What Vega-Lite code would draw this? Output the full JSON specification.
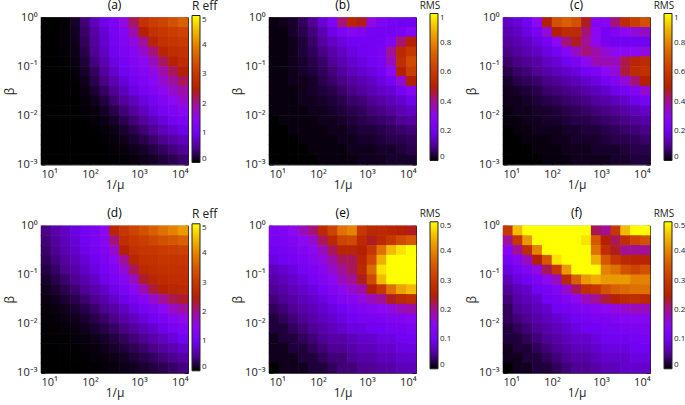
{"$schema":"https://vega.github.io/schema/vega-lite/v6.json","padding":{"left":3,"top":-1.5,"right":0,"bottom":0},"bounds":"flush","columns":5,"spacing":{"column":10,"row":61.3},"resolve":{"scale":{"color":"independent"},"legend":{"color":"independent"}},
"config":{"view":{"stroke":null},"font":"Open Sans","title":{"fontSize":12,"fontWeight":"normal","offset":0,"dy":15.5},"axis":{"grid":false,"domainColor":"#222","tickColor":"#111","labelColor":"#222","titleColor":"#222","labelFontSize":11,"titleFontSize":12,"titleFontWeight":"normal","labelAngle":0,"zindex":1,"tickSize":-4,"labelPadding":8,"titlePadding":0},"legend":{"orient":"none","direction":"vertical","gradientLength":147,"gradientThickness":8,"labelFontSize":8,"titleFontWeight":"normal","titleFontSize":10,"titleAlign":"center","labelColor":"#222","titleColor":"#222","gradientStrokeColor":"#222","gradientStrokeWidth":1,"titlePadding":3,"legendX":151,"legendY":-17}},
"datasets":{"grid":[
{"x":12.6,"y":0.794,"a":0,"b":0.01,"c":0.15,"d":0.45,"e":0.12,"f":0.3},{"x":20,"y":0.794,"a":0,"b":0.02,"c":0.17,"d":0.6,"e":0.13,"f":0.45},{"x":31.6,"y":0.794,"a":0.02,"b":0.03,"c":0.2,"d":0.75,"e":0.15,"f":0.5},{"x":50.1,"y":0.794,"a":0.15,"b":0.06,"c":0.3,"d":0.9,"e":0.18,"f":0.5},{"x":79.4,"y":0.794,"a":0.4,"b":0.1,"c":0.5,"d":1.05,"e":0.21,"f":0.5},{"x":126,"y":0.794,"a":0.7,"b":0.17,"c":0.68,"d":1.2,"e":0.27,"f":0.5},{"x":200,"y":0.794,"a":0.95,"b":0.25,"c":0.72,"d":1.5,"e":0.32,"f":0.5},{"x":316,"y":0.794,"a":1.2,"b":0.42,"c":0.68,"d":2.6,"e":0.38,"f":0.5},{"x":501,"y":0.794,"a":1.6,"b":0.52,"c":0.48,"d":3,"e":0.4,"f":0.5},{"x":794,"y":0.794,"a":2.2,"b":0.48,"c":0.27,"d":3.2,"e":0.3,"f":0.22},{"x":1259,"y":0.794,"a":2.9,"b":0.32,"c":0.28,"d":3.4,"e":0.27,"f":0.2},{"x":1995,"y":0.794,"a":3.1,"b":0.25,"c":0.42,"d":3.6,"e":0.27,"f":0.3},{"x":3162,"y":0.794,"a":3.2,"b":0.22,"c":0.55,"d":3.8,"e":0.26,"f":0.45},{"x":5012,"y":0.794,"a":3.4,"b":0.2,"c":0.62,"d":4,"e":0.25,"f":0.5},{"x":7943,"y":0.794,"a":3.6,"b":0.2,"c":0.68,"d":4.2,"e":0.24,"f":0.5},
{"x":12.6,"y":0.501,"a":0,"b":0.01,"c":0.13,"d":0.4,"e":0.11,"f":0.2},{"x":20,"y":0.501,"a":0,"b":0.01,"c":0.15,"d":0.55,"e":0.12,"f":0.3},{"x":31.6,"y":0.501,"a":0.02,"b":0.03,"c":0.18,"d":0.7,"e":0.13,"f":0.42},{"x":50.1,"y":0.501,"a":0.12,"b":0.05,"c":0.22,"d":0.85,"e":0.15,"f":0.5},{"x":79.4,"y":0.501,"a":0.35,"b":0.08,"c":0.33,"d":1,"e":0.17,"f":0.5},{"x":126,"y":0.501,"a":0.6,"b":0.13,"c":0.5,"d":1.15,"e":0.22,"f":0.5},{"x":200,"y":0.501,"a":0.85,"b":0.19,"c":0.55,"d":1.4,"e":0.27,"f":0.5},{"x":316,"y":0.501,"a":1.1,"b":0.24,"c":0.55,"d":2.1,"e":0.32,"f":0.5},{"x":501,"y":0.501,"a":1.4,"b":0.27,"c":0.42,"d":2.8,"e":0.33,"f":0.48},{"x":794,"y":0.501,"a":1.9,"b":0.25,"c":0.3,"d":3,"e":0.27,"f":0.35},{"x":1259,"y":0.501,"a":2.5,"b":0.22,"c":0.22,"d":3.1,"e":0.24,"f":0.25},{"x":1995,"y":0.501,"a":2.9,"b":0.21,"c":0.25,"d":3.25,"e":0.27,"f":0.22},{"x":3162,"y":0.501,"a":3,"b":0.21,"c":0.3,"d":3.4,"e":0.3,"f":0.28},{"x":5012,"y":0.501,"a":3.1,"b":0.23,"c":0.33,"d":3.5,"e":0.33,"f":0.32},{"x":7943,"y":0.501,"a":3.2,"b":0.27,"c":0.35,"d":3.6,"e":0.35,"f":0.34},
{"x":12.6,"y":0.316,"a":0,"b":0.01,"c":0.11,"d":0.35,"e":0.1,"f":0.14},{"x":20,"y":0.316,"a":0,"b":0.01,"c":0.13,"d":0.5,"e":0.11,"f":0.2},{"x":31.6,"y":0.316,"a":0.02,"b":0.02,"c":0.15,"d":0.65,"e":0.12,"f":0.28},{"x":50.1,"y":0.316,"a":0.1,"b":0.04,"c":0.18,"d":0.8,"e":0.13,"f":0.4},{"x":79.4,"y":0.316,"a":0.3,"b":0.07,"c":0.22,"d":0.95,"e":0.15,"f":0.5},{"x":126,"y":0.316,"a":0.55,"b":0.11,"c":0.3,"d":1.1,"e":0.18,"f":0.5},{"x":200,"y":0.316,"a":0.8,"b":0.15,"c":0.42,"d":1.3,"e":0.22,"f":0.5},{"x":316,"y":0.316,"a":1.05,"b":0.18,"c":0.48,"d":1.7,"e":0.26,"f":0.5},{"x":501,"y":0.316,"a":1.3,"b":0.2,"c":0.4,"d":2.5,"e":0.26,"f":0.5},{"x":794,"y":0.316,"a":1.6,"b":0.21,"c":0.3,"d":2.85,"e":0.25,"f":0.38},{"x":1259,"y":0.316,"a":2,"b":0.21,"c":0.22,"d":2.95,"e":0.3,"f":0.28},{"x":1995,"y":0.316,"a":2.6,"b":0.22,"c":0.2,"d":3,"e":0.38,"f":0.24},{"x":3162,"y":0.316,"a":2.85,"b":0.26,"c":0.2,"d":3.05,"e":0.45,"f":0.2},{"x":5012,"y":0.316,"a":2.95,"b":0.42,"c":0.2,"d":3.1,"e":0.48,"f":0.2},{"x":7943,"y":0.316,"a":3.05,"b":0.5,"c":0.2,"d":3.15,"e":0.5,"f":0.2},
{"x":12.6,"y":0.2,"a":0,"b":0.01,"c":0.09,"d":0.3,"e":0.09,"f":0.11},{"x":20,"y":0.2,"a":0,"b":0.01,"c":0.11,"d":0.42,"e":0.1,"f":0.14},{"x":31.6,"y":0.2,"a":0.01,"b":0.02,"c":0.13,"d":0.55,"e":0.11,"f":0.18},{"x":50.1,"y":0.2,"a":0.08,"b":0.04,"c":0.15,"d":0.7,"e":0.12,"f":0.25},{"x":79.4,"y":0.2,"a":0.25,"b":0.06,"c":0.18,"d":0.85,"e":0.14,"f":0.35},{"x":126,"y":0.2,"a":0.5,"b":0.09,"c":0.21,"d":1,"e":0.16,"f":0.48},{"x":200,"y":0.2,"a":0.75,"b":0.12,"c":0.27,"d":1.2,"e":0.19,"f":0.5},{"x":316,"y":0.2,"a":1,"b":0.15,"c":0.35,"d":1.45,"e":0.22,"f":0.5},{"x":501,"y":0.2,"a":1.2,"b":0.18,"c":0.42,"d":2,"e":0.22,"f":0.5},{"x":794,"y":0.2,"a":1.4,"b":0.2,"c":0.38,"d":2.65,"e":0.26,"f":0.44},{"x":1259,"y":0.2,"a":1.7,"b":0.21,"c":0.33,"d":2.85,"e":0.33,"f":0.35},{"x":1995,"y":0.2,"a":2.1,"b":0.24,"c":0.3,"d":2.9,"e":0.44,"f":0.3},{"x":3162,"y":0.2,"a":2.6,"b":0.4,"c":0.3,"d":2.95,"e":0.5,"f":0.27},{"x":5012,"y":0.2,"a":2.8,"b":0.54,"c":0.3,"d":2.95,"e":0.5,"f":0.26},{"x":7943,"y":0.2,"a":2.9,"b":0.6,"c":0.32,"d":3,"e":0.5,"f":0.26},
{"x":12.6,"y":0.126,"a":0,"b":0.01,"c":0.07,"d":0.22,"e":0.07,"f":0.09},{"x":20,"y":0.126,"a":0,"b":0.01,"c":0.09,"d":0.33,"e":0.08,"f":0.11},{"x":31.6,"y":0.126,"a":0.01,"b":0.02,"c":0.1,"d":0.47,"e":0.09,"f":0.13},{"x":50.1,"y":0.126,"a":0.06,"b":0.03,"c":0.12,"d":0.6,"e":0.11,"f":0.16},{"x":79.4,"y":0.126,"a":0.2,"b":0.05,"c":0.15,"d":0.75,"e":0.12,"f":0.22},{"x":126,"y":0.126,"a":0.42,"b":0.07,"c":0.17,"d":0.9,"e":0.14,"f":0.3},{"x":200,"y":0.126,"a":0.65,"b":0.1,"c":0.2,"d":1.1,"e":0.17,"f":0.42},{"x":316,"y":0.126,"a":0.9,"b":0.13,"c":0.24,"d":1.3,"e":0.2,"f":0.5},{"x":501,"y":0.126,"a":1.1,"b":0.16,"c":0.3,"d":1.65,"e":0.22,"f":0.5},{"x":794,"y":0.126,"a":1.3,"b":0.18,"c":0.37,"d":2.2,"e":0.27,"f":0.5},{"x":1259,"y":0.126,"a":1.5,"b":0.2,"c":0.37,"d":2.7,"e":0.37,"f":0.4},{"x":1995,"y":0.126,"a":1.8,"b":0.23,"c":0.36,"d":2.8,"e":0.48,"f":0.38},{"x":3162,"y":0.126,"a":2.2,"b":0.36,"c":0.45,"d":2.85,"e":0.5,"f":0.34},{"x":5012,"y":0.126,"a":2.55,"b":0.56,"c":0.52,"d":2.9,"e":0.5,"f":0.32},{"x":7943,"y":0.126,"a":2.75,"b":0.66,"c":0.55,"d":2.9,"e":0.5,"f":0.34},
{"x":12.6,"y":0.0794,"a":0,"b":0.01,"c":0.05,"d":0.15,"e":0.06,"f":0.07},{"x":20,"y":0.0794,"a":0,"b":0.01,"c":0.07,"d":0.25,"e":0.07,"f":0.09},{"x":31.6,"y":0.0794,"a":0,"b":0.02,"c":0.08,"d":0.36,"e":0.08,"f":0.1},{"x":50.1,"y":0.0794,"a":0.04,"b":0.03,"c":0.1,"d":0.5,"e":0.09,"f":0.12},{"x":79.4,"y":0.0794,"a":0.15,"b":0.04,"c":0.12,"d":0.62,"e":0.11,"f":0.15},{"x":126,"y":0.0794,"a":0.33,"b":0.06,"c":0.14,"d":0.77,"e":0.13,"f":0.18},{"x":200,"y":0.0794,"a":0.55,"b":0.08,"c":0.16,"d":0.95,"e":0.15,"f":0.27},{"x":316,"y":0.0794,"a":0.8,"b":0.11,"c":0.18,"d":1.15,"e":0.18,"f":0.36},{"x":501,"y":0.0794,"a":1,"b":0.14,"c":0.21,"d":1.4,"e":0.2,"f":0.42},{"x":794,"y":0.0794,"a":1.2,"b":0.16,"c":0.24,"d":1.75,"e":0.24,"f":0.44},{"x":1259,"y":0.0794,"a":1.4,"b":0.18,"c":0.3,"d":2.35,"e":0.33,"f":0.42},{"x":1995,"y":0.0794,"a":1.6,"b":0.21,"c":0.33,"d":2.65,"e":0.45,"f":0.42},{"x":3162,"y":0.0794,"a":1.9,"b":0.3,"c":0.46,"d":2.75,"e":0.5,"f":0.42},{"x":5012,"y":0.0794,"a":2.2,"b":0.5,"c":0.55,"d":2.8,"e":0.5,"f":0.4},{"x":7943,"y":0.0794,"a":2.5,"b":0.62,"c":0.57,"d":2.8,"e":0.5,"f":0.4},
{"x":12.6,"y":0.0501,"a":0,"b":0.01,"c":0.03,"d":0.1,"e":0.05,"f":0.05},{"x":20,"y":0.0501,"a":0,"b":0.01,"c":0.05,"d":0.17,"e":0.06,"f":0.07},{"x":31.6,"y":0.0501,"a":0,"b":0.02,"c":0.06,"d":0.27,"e":0.07,"f":0.08},{"x":50.1,"y":0.0501,"a":0.02,"b":0.02,"c":0.07,"d":0.38,"e":0.08,"f":0.1},{"x":79.4,"y":0.0501,"a":0.1,"b":0.03,"c":0.09,"d":0.5,"e":0.09,"f":0.11},{"x":126,"y":0.0501,"a":0.25,"b":0.05,"c":0.1,"d":0.63,"e":0.11,"f":0.13},{"x":200,"y":0.0501,"a":0.45,"b":0.07,"c":0.12,"d":0.78,"e":0.13,"f":0.17},{"x":316,"y":0.0501,"a":0.65,"b":0.09,"c":0.14,"d":0.95,"e":0.15,"f":0.22},{"x":501,"y":0.0501,"a":0.85,"b":0.11,"c":0.16,"d":1.15,"e":0.17,"f":0.28},{"x":794,"y":0.0501,"a":1.05,"b":0.13,"c":0.18,"d":1.45,"e":0.19,"f":0.3},{"x":1259,"y":0.0501,"a":1.25,"b":0.15,"c":0.22,"d":1.85,"e":0.25,"f":0.34},{"x":1995,"y":0.0501,"a":1.45,"b":0.18,"c":0.26,"d":2.3,"e":0.3,"f":0.36},{"x":3162,"y":0.0501,"a":1.7,"b":0.22,"c":0.33,"d":2.55,"e":0.38,"f":0.37},{"x":5012,"y":0.0501,"a":1.95,"b":0.33,"c":0.42,"d":2.65,"e":0.43,"f":0.38},{"x":7943,"y":0.0501,"a":2.2,"b":0.5,"c":0.5,"d":2.7,"e":0.45,"f":0.38},
{"x":12.6,"y":0.0316,"a":0,"b":0.01,"c":0.02,"d":0.06,"e":0.04,"f":0.04},{"x":20,"y":0.0316,"a":0,"b":0.01,"c":0.03,"d":0.1,"e":0.05,"f":0.06},{"x":31.6,"y":0.0316,"a":0,"b":0.01,"c":0.04,"d":0.17,"e":0.06,"f":0.07},{"x":50.1,"y":0.0316,"a":0.01,"b":0.02,"c":0.05,"d":0.26,"e":0.07,"f":0.08},{"x":79.4,"y":0.0316,"a":0.06,"b":0.03,"c":0.07,"d":0.37,"e":0.08,"f":0.1},{"x":126,"y":0.0316,"a":0.17,"b":0.04,"c":0.08,"d":0.49,"e":0.09,"f":0.11},{"x":200,"y":0.0316,"a":0.33,"b":0.05,"c":0.09,"d":0.62,"e":0.11,"f":0.13},{"x":316,"y":0.0316,"a":0.5,"b":0.07,"c":0.1,"d":0.78,"e":0.13,"f":0.15},{"x":501,"y":0.0316,"a":0.7,"b":0.09,"c":0.12,"d":0.95,"e":0.14,"f":0.18},{"x":794,"y":0.0316,"a":0.9,"b":0.11,"c":0.14,"d":1.15,"e":0.16,"f":0.2},{"x":1259,"y":0.0316,"a":1.1,"b":0.13,"c":0.16,"d":1.4,"e":0.18,"f":0.23},{"x":1995,"y":0.0316,"a":1.3,"b":0.15,"c":0.19,"d":1.7,"e":0.2,"f":0.25},{"x":3162,"y":0.0316,"a":1.5,"b":0.17,"c":0.22,"d":2,"e":0.24,"f":0.27},{"x":5012,"y":0.0316,"a":1.7,"b":0.21,"c":0.26,"d":2.25,"e":0.27,"f":0.28},{"x":7943,"y":0.0316,"a":1.9,"b":0.28,"c":0.33,"d":2.35,"e":0.28,"f":0.27},
{"x":12.6,"y":0.02,"a":0,"b":0.01,"c":0.02,"d":0.03,"e":0.03,"f":0.03},{"x":20,"y":0.02,"a":0,"b":0.01,"c":0.02,"d":0.06,"e":0.04,"f":0.05},{"x":31.6,"y":0.02,"a":0,"b":0.01,"c":0.03,"d":0.1,"e":0.05,"f":0.06},{"x":50.1,"y":0.02,"a":0,"b":0.02,"c":0.04,"d":0.17,"e":0.06,"f":0.07},{"x":79.4,"y":0.02,"a":0.03,"b":0.02,"c":0.05,"d":0.26,"e":0.07,"f":0.08},{"x":126,"y":0.02,"a":0.1,"b":0.03,"c":0.06,"d":0.36,"e":0.08,"f":0.1},{"x":200,"y":0.02,"a":0.22,"b":0.04,"c":0.07,"d":0.48,"e":0.09,"f":0.11},{"x":316,"y":0.02,"a":0.38,"b":0.05,"c":0.08,"d":0.6,"e":0.1,"f":0.12},{"x":501,"y":0.02,"a":0.55,"b":0.07,"c":0.09,"d":0.75,"e":0.12,"f":0.13},{"x":794,"y":0.02,"a":0.72,"b":0.08,"c":0.11,"d":0.92,"e":0.13,"f":0.14},{"x":1259,"y":0.02,"a":0.9,"b":0.1,"c":0.12,"d":1.1,"e":0.14,"f":0.15},{"x":1995,"y":0.02,"a":1.1,"b":0.12,"c":0.14,"d":1.3,"e":0.15,"f":0.16},{"x":3162,"y":0.02,"a":1.3,"b":0.14,"c":0.16,"d":1.5,"e":0.16,"f":0.17},{"x":5012,"y":0.02,"a":1.5,"b":0.16,"c":0.19,"d":1.75,"e":0.18,"f":0.18},{"x":7943,"y":0.02,"a":1.7,"b":0.19,"c":0.22,"d":1.95,"e":0.19,"f":0.18},
{"x":12.6,"y":0.0126,"a":0,"b":0.01,"c":0.01,"d":0.02,"e":0.02,"f":0.03},{"x":20,"y":0.0126,"a":0,"b":0.01,"c":0.02,"d":0.03,"e":0.03,"f":0.04},{"x":31.6,"y":0.0126,"a":0,"b":0.01,"c":0.02,"d":0.06,"e":0.04,"f":0.05},{"x":50.1,"y":0.0126,"a":0,"b":0.01,"c":0.03,"d":0.1,"e":0.05,"f":0.06},{"x":79.4,"y":0.0126,"a":0.02,"b":0.02,"c":0.03,"d":0.16,"e":0.06,"f":0.07},{"x":126,"y":0.0126,"a":0.05,"b":0.02,"c":0.04,"d":0.25,"e":0.07,"f":0.08},{"x":200,"y":0.0126,"a":0.13,"b":0.03,"c":0.05,"d":0.35,"e":0.08,"f":0.09},{"x":316,"y":0.0126,"a":0.25,"b":0.04,"c":0.06,"d":0.46,"e":0.09,"f":0.1},{"x":501,"y":0.0126,"a":0.4,"b":0.05,"c":0.07,"d":0.58,"e":0.1,"f":0.11},{"x":794,"y":0.0126,"a":0.55,"b":0.06,"c":0.08,"d":0.72,"e":0.11,"f":0.12},{"x":1259,"y":0.0126,"a":0.72,"b":0.08,"c":0.09,"d":0.87,"e":0.11,"f":0.12},{"x":1995,"y":0.0126,"a":0.9,"b":0.09,"c":0.1,"d":1.02,"e":0.12,"f":0.13},{"x":3162,"y":0.0126,"a":1.1,"b":0.11,"c":0.12,"d":1.2,"e":0.13,"f":0.14},{"x":5012,"y":0.0126,"a":1.25,"b":0.13,"c":0.14,"d":1.4,"e":0.13,"f":0.14},{"x":7943,"y":0.0126,"a":1.45,"b":0.15,"c":0.16,"d":1.55,"e":0.14,"f":0.14},
{"x":12.6,"y":0.00794,"a":0,"b":0,"c":0.01,"d":0.01,"e":0.02,"f":0.02},{"x":20,"y":0.00794,"a":0,"b":0.01,"c":0.01,"d":0.01,"e":0.02,"f":0.03},{"x":31.6,"y":0.00794,"a":0,"b":0.01,"c":0.02,"d":0.03,"e":0.03,"f":0.04},{"x":50.1,"y":0.00794,"a":0,"b":0.01,"c":0.02,"d":0.05,"e":0.04,"f":0.05},{"x":79.4,"y":0.00794,"a":0,"b":0.01,"c":0.03,"d":0.1,"e":0.05,"f":0.06},{"x":126,"y":0.00794,"a":0.03,"b":0.02,"c":0.03,"d":0.16,"e":0.06,"f":0.07},{"x":200,"y":0.00794,"a":0.07,"b":0.02,"c":0.04,"d":0.24,"e":0.07,"f":0.08},{"x":316,"y":0.00794,"a":0.15,"b":0.03,"c":0.05,"d":0.33,"e":0.08,"f":0.09},{"x":501,"y":0.00794,"a":0.27,"b":0.04,"c":0.05,"d":0.43,"e":0.09,"f":0.1},{"x":794,"y":0.00794,"a":0.4,"b":0.05,"c":0.06,"d":0.55,"e":0.09,"f":0.1},{"x":1259,"y":0.00794,"a":0.55,"b":0.06,"c":0.07,"d":0.68,"e":0.1,"f":0.11},{"x":1995,"y":0.00794,"a":0.7,"b":0.07,"c":0.08,"d":0.8,"e":0.1,"f":0.11},{"x":3162,"y":0.00794,"a":0.87,"b":0.08,"c":0.09,"d":0.95,"e":0.11,"f":0.12},{"x":5012,"y":0.00794,"a":1.05,"b":0.1,"c":0.1,"d":1.1,"e":0.11,"f":0.12},{"x":7943,"y":0.00794,"a":1.2,"b":0.11,"c":0.12,"d":1.25,"e":0.12,"f":0.12},
{"x":12.6,"y":0.00501,"a":0,"b":0,"c":0,"d":0,"e":0.01,"f":0.02},{"x":20,"y":0.00501,"a":0,"b":0,"c":0.01,"d":0.01,"e":0.02,"f":0.02},{"x":31.6,"y":0.00501,"a":0,"b":0.01,"c":0.01,"d":0.01,"e":0.02,"f":0.03},{"x":50.1,"y":0.00501,"a":0,"b":0.01,"c":0.02,"d":0.03,"e":0.03,"f":0.04},{"x":79.4,"y":0.00501,"a":0,"b":0.01,"c":0.02,"d":0.05,"e":0.04,"f":0.05},{"x":126,"y":0.00501,"a":0.01,"b":0.01,"c":0.02,"d":0.09,"e":0.05,"f":0.06},{"x":200,"y":0.00501,"a":0.03,"b":0.02,"c":0.03,"d":0.15,"e":0.06,"f":0.07},{"x":316,"y":0.00501,"a":0.08,"b":0.02,"c":0.03,"d":0.22,"e":0.06,"f":0.08},{"x":501,"y":0.00501,"a":0.16,"b":0.03,"c":0.04,"d":0.31,"e":0.07,"f":0.08},{"x":794,"y":0.00501,"a":0.27,"b":0.04,"c":0.04,"d":0.4,"e":0.08,"f":0.09},{"x":1259,"y":0.00501,"a":0.38,"b":0.04,"c":0.05,"d":0.5,"e":0.08,"f":0.1},{"x":1995,"y":0.00501,"a":0.52,"b":0.05,"c":0.06,"d":0.62,"e":0.09,"f":0.1},{"x":3162,"y":0.00501,"a":0.67,"b":0.06,"c":0.07,"d":0.74,"e":0.09,"f":0.1},{"x":5012,"y":0.00501,"a":0.82,"b":0.07,"c":0.08,"d":0.87,"e":0.1,"f":0.11},{"x":7943,"y":0.00501,"a":0.95,"b":0.08,"c":0.09,"d":1,"e":0.1,"f":0.11},
{"x":12.6,"y":0.00316,"a":0,"b":0,"c":0,"d":0,"e":0.01,"f":0.01},{"x":20,"y":0.00316,"a":0,"b":0,"c":0,"d":0,"e":0.01,"f":0.02},{"x":31.6,"y":0.00316,"a":0,"b":0,"c":0.01,"d":0.01,"e":0.02,"f":0.02},{"x":50.1,"y":0.00316,"a":0,"b":0.01,"c":0.01,"d":0.01,"e":0.02,"f":0.03},{"x":79.4,"y":0.00316,"a":0,"b":0.01,"c":0.01,"d":0.03,"e":0.03,"f":0.04},{"x":126,"y":0.00316,"a":0,"b":0.01,"c":0.02,"d":0.05,"e":0.04,"f":0.05},{"x":200,"y":0.00316,"a":0.01,"b":0.01,"c":0.02,"d":0.09,"e":0.05,"f":0.06},{"x":316,"y":0.00316,"a":0.04,"b":0.02,"c":0.03,"d":0.14,"e":0.05,"f":0.07},{"x":501,"y":0.00316,"a":0.09,"b":0.02,"c":0.03,"d":0.2,"e":0.06,"f":0.07},{"x":794,"y":0.00316,"a":0.16,"b":0.03,"c":0.03,"d":0.28,"e":0.07,"f":0.08},{"x":1259,"y":0.00316,"a":0.25,"b":0.03,"c":0.04,"d":0.36,"e":0.07,"f":0.09},{"x":1995,"y":0.00316,"a":0.36,"b":0.04,"c":0.05,"d":0.46,"e":0.08,"f":0.09},{"x":3162,"y":0.00316,"a":0.48,"b":0.05,"c":0.05,"d":0.56,"e":0.08,"f":0.09},{"x":5012,"y":0.00316,"a":0.6,"b":0.05,"c":0.06,"d":0.66,"e":0.09,"f":0.1},{"x":7943,"y":0.00316,"a":0.72,"b":0.06,"c":0.07,"d":0.77,"e":0.09,"f":0.1},
{"x":12.6,"y":0.002,"a":0,"b":0,"c":0,"d":0,"e":0.01,"f":0.01},{"x":20,"y":0.002,"a":0,"b":0,"c":0,"d":0,"e":0.01,"f":0.01},{"x":31.6,"y":0.002,"a":0,"b":0,"c":0,"d":0,"e":0.01,"f":0.02},{"x":50.1,"y":0.002,"a":0,"b":0,"c":0.01,"d":0.01,"e":0.02,"f":0.02},{"x":79.4,"y":0.002,"a":0,"b":0.01,"c":0.01,"d":0.01,"e":0.02,"f":0.03},{"x":126,"y":0.002,"a":0,"b":0.01,"c":0.01,"d":0.03,"e":0.03,"f":0.04},{"x":200,"y":0.002,"a":0,"b":0.01,"c":0.02,"d":0.05,"e":0.04,"f":0.05},{"x":316,"y":0.002,"a":0.02,"b":0.01,"c":0.02,"d":0.08,"e":0.04,"f":0.06},{"x":501,"y":0.002,"a":0.05,"b":0.02,"c":0.02,"d":0.12,"e":0.05,"f":0.06},{"x":794,"y":0.002,"a":0.09,"b":0.02,"c":0.03,"d":0.18,"e":0.06,"f":0.07},{"x":1259,"y":0.002,"a":0.15,"b":0.02,"c":0.03,"d":0.25,"e":0.06,"f":0.08},{"x":1995,"y":0.002,"a":0.23,"b":0.03,"c":0.03,"d":0.32,"e":0.07,"f":0.08},{"x":3162,"y":0.002,"a":0.32,"b":0.03,"c":0.04,"d":0.4,"e":0.07,"f":0.08},{"x":5012,"y":0.002,"a":0.42,"b":0.04,"c":0.05,"d":0.48,"e":0.08,"f":0.09},{"x":7943,"y":0.002,"a":0.52,"b":0.05,"c":0.05,"d":0.57,"e":0.08,"f":0.09},
{"x":12.6,"y":0.00126,"a":0,"b":0,"c":0,"d":0,"e":0,"f":0},{"x":20,"y":0.00126,"a":0,"b":0,"c":0,"d":0,"e":0.01,"f":0.01},{"x":31.6,"y":0.00126,"a":0,"b":0,"c":0,"d":0,"e":0.01,"f":0.01},{"x":50.1,"y":0.00126,"a":0,"b":0,"c":0,"d":0,"e":0.01,"f":0.02},{"x":79.4,"y":0.00126,"a":0,"b":0,"c":0.01,"d":0.01,"e":0.02,"f":0.02},{"x":126,"y":0.00126,"a":0,"b":0.01,"c":0.01,"d":0.01,"e":0.02,"f":0.03},{"x":200,"y":0.00126,"a":0,"b":0.01,"c":0.01,"d":0.03,"e":0.03,"f":0.04},{"x":316,"y":0.00126,"a":0.01,"b":0.01,"c":0.02,"d":0.05,"e":0.04,"f":0.05},{"x":501,"y":0.00126,"a":0.02,"b":0.01,"c":0.02,"d":0.07,"e":0.04,"f":0.05},{"x":794,"y":0.00126,"a":0.05,"b":0.02,"c":0.02,"d":0.11,"e":0.05,"f":0.06},{"x":1259,"y":0.00126,"a":0.08,"b":0.02,"c":0.02,"d":0.16,"e":0.05,"f":0.07},{"x":1995,"y":0.00126,"a":0.13,"b":0.02,"c":0.03,"d":0.21,"e":0.06,"f":0.07},{"x":3162,"y":0.00126,"a":0.2,"b":0.03,"c":0.03,"d":0.27,"e":0.06,"f":0.08},{"x":5012,"y":0.00126,"a":0.27,"b":0.03,"c":0.04,"d":0.34,"e":0.07,"f":0.08},{"x":7943,"y":0.00126,"a":0.36,"b":0.03,"c":0.04,"d":0.42,"e":0.07,"f":0.08}
]},
"concat":[
{"width":147,"height":147,"title":"(a)","data":{"name":"grid"},"resolve":{"axis":{"x":"independent","y":"independent"}},"layer":[{"mark":{"type":"rect","width":10.4,"height":10.4},"encoding":{"x":{"field":"x","type":"quantitative","scale":{"type":"log","domain":[10,10000]},"axis":{"values":[10,100,1000,10000],"title":"1/μ","labelExpr":"datum.value==10?'10¹':datum.value==100?'10²':datum.value==1000?'10³':'10⁴'"}},"y":{"field":"y","type":"quantitative","scale":{"type":"log","domain":[0.001,1]},"axis":{"values":[0.001,0.01,0.1,1],"title":"β","labelExpr":"datum.value==1?'10⁰':datum.value==0.1?'10⁻¹':datum.value==0.01?'10⁻²':'10⁻³'"}},"color":{"field":"a","type":"quantitative","scale":{"domain":[0,0.5,1,1.5,2,2.5,3,3.5,4,4.5,5],"range":["#000000","#510096","#7202f2","#8c07f2","#a11096","#b42000","#c63700","#d55700","#e48300","#f2ba00","#ffff00"],"interpolate":"rgb","clamp":true},"legend":{"title":"R eff","titleFontSize":12,"titleAlign":"left","values":[0,1,2,3,4,5]}}}},{"data":{"values":[]},"mark":{"type":"rect"},"encoding":{"x":{"field":"x","type":"quantitative","scale":{"type":"log","domain":[10,10000]},"axis":{"orient":"top","values":[10,100,1000,10000],"title":null,"labels":false}},"y":{"field":"y","type":"quantitative","scale":{"type":"log","domain":[0.001,1]},"axis":{"orient":"right","values":[0.001,0.01,0.1,1],"title":null,"labels":false}}}}]},
{"width":61,"height":10,"data":{"values":[]},"mark":"rect","encoding":{}},
{"width":147,"height":147,"title":"(b)","data":{"name":"grid"},"resolve":{"axis":{"x":"independent","y":"independent"}},"layer":[{"mark":{"type":"rect","width":10.4,"height":10.4},"encoding":{"x":{"field":"x","type":"quantitative","scale":{"type":"log","domain":[10,10000]},"axis":{"values":[10,100,1000,10000],"title":"1/μ","labelExpr":"datum.value==10?'10¹':datum.value==100?'10²':datum.value==1000?'10³':'10⁴'"}},"y":{"field":"y","type":"quantitative","scale":{"type":"log","domain":[0.001,1]},"axis":{"values":[0.001,0.01,0.1,1],"title":"β","labelExpr":"datum.value==1?'10⁰':datum.value==0.1?'10⁻¹':datum.value==0.01?'10⁻²':'10⁻³'"}},"color":{"field":"b","type":"quantitative","scale":{"domain":[0,0.1,0.2,0.3,0.4,0.5,0.6,0.7,0.8,0.9,1],"range":["#000000","#510096","#7202f2","#8c07f2","#a11096","#b42000","#c63700","#d55700","#e48300","#f2ba00","#ffff00"],"interpolate":"rgb","clamp":true},"legend":{"title":"RMS","format":"~g","values":[0,0.2,0.4,0.6,0.8,1]}}}},{"data":{"values":[]},"mark":{"type":"rect"},"encoding":{"x":{"field":"x","type":"quantitative","scale":{"type":"log","domain":[10,10000]},"axis":{"orient":"top","values":[10,100,1000,10000],"title":null,"labels":false}},"y":{"field":"y","type":"quantitative","scale":{"type":"log","domain":[0.001,1]},"axis":{"orient":"right","values":[0.001,0.01,0.1,1],"title":null,"labels":false}}}}]},
{"width":67,"height":10,"data":{"values":[]},"mark":"rect","encoding":{}},
{"width":147,"height":147,"title":"(c)","data":{"name":"grid"},"resolve":{"axis":{"x":"independent","y":"independent"}},"layer":[{"mark":{"type":"rect","width":10.4,"height":10.4},"encoding":{"x":{"field":"x","type":"quantitative","scale":{"type":"log","domain":[10,10000]},"axis":{"values":[10,100,1000,10000],"title":"1/μ","labelExpr":"datum.value==10?'10¹':datum.value==100?'10²':datum.value==1000?'10³':'10⁴'"}},"y":{"field":"y","type":"quantitative","scale":{"type":"log","domain":[0.001,1]},"axis":{"values":[0.001,0.01,0.1,1],"title":"β","labelExpr":"datum.value==1?'10⁰':datum.value==0.1?'10⁻¹':datum.value==0.01?'10⁻²':'10⁻³'"}},"color":{"field":"c","type":"quantitative","scale":{"domain":[0,0.1,0.2,0.3,0.4,0.5,0.6,0.7,0.8,0.9,1],"range":["#000000","#510096","#7202f2","#8c07f2","#a11096","#b42000","#c63700","#d55700","#e48300","#f2ba00","#ffff00"],"interpolate":"rgb","clamp":true},"legend":{"title":"RMS","format":"~g","values":[0,0.2,0.4,0.6,0.8,1]}}}},{"data":{"values":[]},"mark":{"type":"rect"},"encoding":{"x":{"field":"x","type":"quantitative","scale":{"type":"log","domain":[10,10000]},"axis":{"orient":"top","values":[10,100,1000,10000],"title":null,"labels":false}},"y":{"field":"y","type":"quantitative","scale":{"type":"log","domain":[0.001,1]},"axis":{"orient":"right","values":[0.001,0.01,0.1,1],"title":null,"labels":false}}}}]},
{"width":147,"height":147,"title":"(d)","data":{"name":"grid"},"resolve":{"axis":{"x":"independent","y":"independent"}},"layer":[{"mark":{"type":"rect","width":10.4,"height":10.4},"encoding":{"x":{"field":"x","type":"quantitative","scale":{"type":"log","domain":[10,10000]},"axis":{"values":[10,100,1000,10000],"title":"1/μ","labelExpr":"datum.value==10?'10¹':datum.value==100?'10²':datum.value==1000?'10³':'10⁴'"}},"y":{"field":"y","type":"quantitative","scale":{"type":"log","domain":[0.001,1]},"axis":{"values":[0.001,0.01,0.1,1],"title":"β","labelExpr":"datum.value==1?'10⁰':datum.value==0.1?'10⁻¹':datum.value==0.01?'10⁻²':'10⁻³'"}},"color":{"field":"d","type":"quantitative","scale":{"domain":[0,0.5,1,1.5,2,2.5,3,3.5,4,4.5,5],"range":["#000000","#510096","#7202f2","#8c07f2","#a11096","#b42000","#c63700","#d55700","#e48300","#f2ba00","#ffff00"],"interpolate":"rgb","clamp":true},"legend":{"title":"R eff","titleFontSize":12,"titleAlign":"left","values":[0,1,2,3,4,5]}}}},{"data":{"values":[]},"mark":{"type":"rect"},"encoding":{"x":{"field":"x","type":"quantitative","scale":{"type":"log","domain":[10,10000]},"axis":{"orient":"top","values":[10,100,1000,10000],"title":null,"labels":false}},"y":{"field":"y","type":"quantitative","scale":{"type":"log","domain":[0.001,1]},"axis":{"orient":"right","values":[0.001,0.01,0.1,1],"title":null,"labels":false}}}}]},
{"width":61,"height":10,"data":{"values":[]},"mark":"rect","encoding":{}},
{"width":147,"height":147,"title":"(e)","data":{"name":"grid"},"resolve":{"axis":{"x":"independent","y":"independent"}},"layer":[{"mark":{"type":"rect","width":10.4,"height":10.4},"encoding":{"x":{"field":"x","type":"quantitative","scale":{"type":"log","domain":[10,10000]},"axis":{"values":[10,100,1000,10000],"title":"1/μ","labelExpr":"datum.value==10?'10¹':datum.value==100?'10²':datum.value==1000?'10³':'10⁴'"}},"y":{"field":"y","type":"quantitative","scale":{"type":"log","domain":[0.001,1]},"axis":{"values":[0.001,0.01,0.1,1],"title":"β","labelExpr":"datum.value==1?'10⁰':datum.value==0.1?'10⁻¹':datum.value==0.01?'10⁻²':'10⁻³'"}},"color":{"field":"e","type":"quantitative","scale":{"domain":[0,0.05,0.1,0.15,0.2,0.25,0.3,0.35,0.4,0.45,0.5],"range":["#000000","#510096","#7202f2","#8c07f2","#a11096","#b42000","#c63700","#d55700","#e48300","#f2ba00","#ffff00"],"interpolate":"rgb","clamp":true},"legend":{"title":"RMS","format":"~g","values":[0,0.1,0.2,0.3,0.4,0.5]}}}},{"data":{"values":[]},"mark":{"type":"rect"},"encoding":{"x":{"field":"x","type":"quantitative","scale":{"type":"log","domain":[10,10000]},"axis":{"orient":"top","values":[10,100,1000,10000],"title":null,"labels":false}},"y":{"field":"y","type":"quantitative","scale":{"type":"log","domain":[0.001,1]},"axis":{"orient":"right","values":[0.001,0.01,0.1,1],"title":null,"labels":false}}}}]},
{"width":67,"height":10,"data":{"values":[]},"mark":"rect","encoding":{}},
{"width":147,"height":147,"title":"(f)","data":{"name":"grid"},"resolve":{"axis":{"x":"independent","y":"independent"}},"layer":[{"mark":{"type":"rect","width":10.4,"height":10.4},"encoding":{"x":{"field":"x","type":"quantitative","scale":{"type":"log","domain":[10,10000]},"axis":{"values":[10,100,1000,10000],"title":"1/μ","labelExpr":"datum.value==10?'10¹':datum.value==100?'10²':datum.value==1000?'10³':'10⁴'"}},"y":{"field":"y","type":"quantitative","scale":{"type":"log","domain":[0.001,1]},"axis":{"values":[0.001,0.01,0.1,1],"title":"β","labelExpr":"datum.value==1?'10⁰':datum.value==0.1?'10⁻¹':datum.value==0.01?'10⁻²':'10⁻³'"}},"color":{"field":"f","type":"quantitative","scale":{"domain":[0,0.05,0.1,0.15,0.2,0.25,0.3,0.35,0.4,0.45,0.5],"range":["#000000","#510096","#7202f2","#8c07f2","#a11096","#b42000","#c63700","#d55700","#e48300","#f2ba00","#ffff00"],"interpolate":"rgb","clamp":true},"legend":{"title":"RMS","format":"~g","values":[0,0.1,0.2,0.3,0.4,0.5]}}}},{"data":{"values":[]},"mark":{"type":"rect"},"encoding":{"x":{"field":"x","type":"quantitative","scale":{"type":"log","domain":[10,10000]},"axis":{"orient":"top","values":[10,100,1000,10000],"title":null,"labels":false}},"y":{"field":"y","type":"quantitative","scale":{"type":"log","domain":[0.001,1]},"axis":{"orient":"right","values":[0.001,0.01,0.1,1],"title":null,"labels":false}}}}]}
]}
